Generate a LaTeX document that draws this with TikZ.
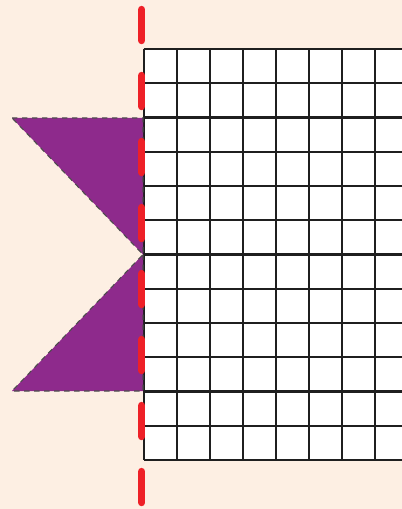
\documentclass[tikz,border=0pt]{standalone}
\definecolor{paper}{RGB}{253,239,227}
\definecolor{plum}{RGB}{142,42,140}
\definecolor{axisred}{RGB}{238,32,39}
\begin{document}
\begin{tikzpicture}[x=0.75pt, y=-0.75pt, gridline/.style={line width=1.6pt, black!88}]
  \fill[paper] (0,0) rectangle (402,509);
  \useasboundingbox (0,0) rectangle (402,509);
  \fill[white] (143.7,49) rectangle (402,460);
  \foreach \i in {0,...,7}
    \draw[gridline] (143.7+33*\i,49) -- (143.7+33*\i,460);
  \foreach \j in {0,...,12}
    \draw[gridline] (143.7,49+34.25*\j) -- (402,49+34.25*\j);
  \coordinate (tl) at (12,118);
  \coordinate (tr) at (143,118);
  \coordinate (tip) at (143,254.5);
  \coordinate (br) at (143,391);
  \coordinate (bl) at (12,391);
  \fill[plum] (tl) -- (tr) -- (tip) -- cycle;
  \fill[plum] (tip) -- (br) -- (bl) -- cycle;
  \draw[black!70, line width=0.8pt, dash pattern=on 4pt off 3.5pt] (tl) -- (tr) -- (tip) -- cycle;
  \draw[black!70, line width=0.8pt, dash pattern=on 4pt off 3.5pt] (tip) -- (br) -- (bl) -- cycle;
  \coordinate (top) at (141.7,9.5);
  \coordinate (bot) at (141.7,506);
  \draw[axisred, line width=5.5pt, line cap=round, dash pattern=on 23.3pt off 26.2pt] (top) -- (bot);
\end{tikzpicture}
\end{document}
